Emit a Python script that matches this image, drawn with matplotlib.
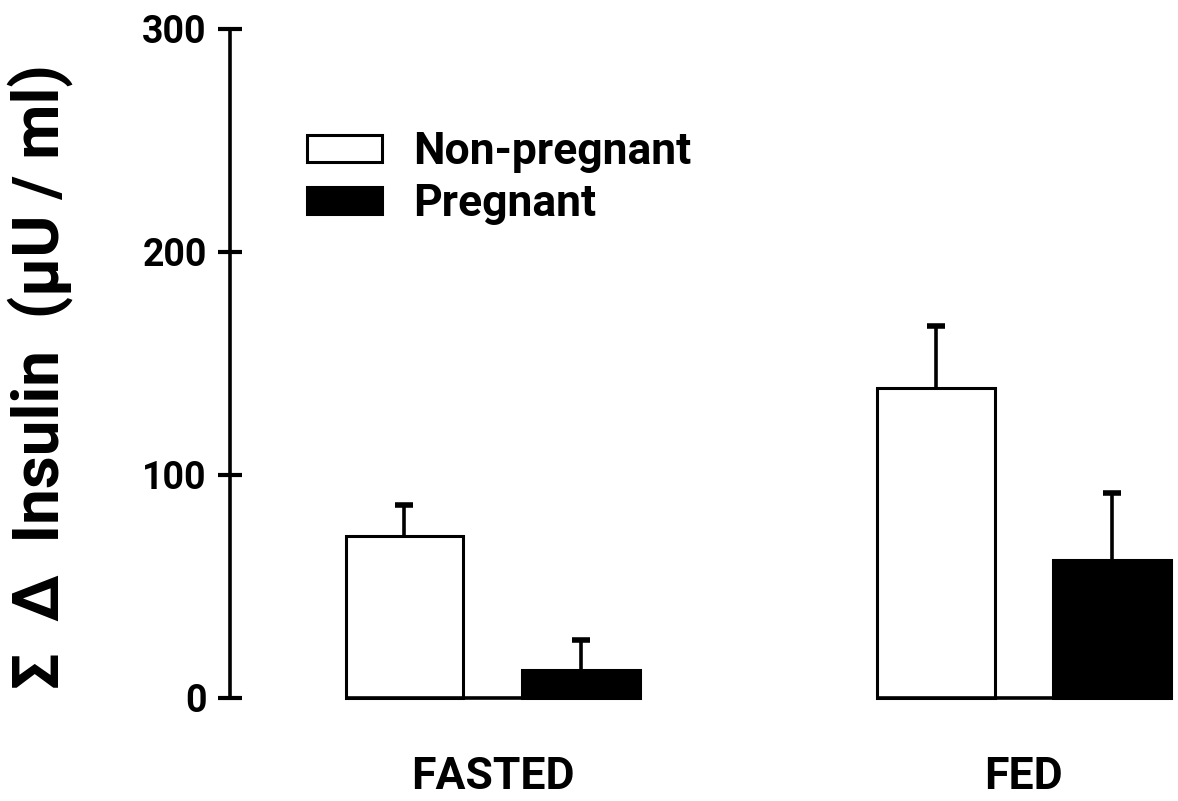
import numpy as np
import matplotlib
matplotlib.use("Agg")
import matplotlib.pyplot as plt

# datos
groups = ["FASTED", "FED"]
series = ["Non-pregnant", "Pregnant"]
non_pregnant = [72.5, 139]
non_pregnant_err = [14, 28]
pregnant = [12.5, 62]
pregnant_err = [13.5, 30]
yticks = [0, 100, 200, 300]

plt.rcParams['font.family'] = ['Roboto', 'DejaVu Sans']
plt.rcParams['font.weight'] = 'bold'

fig = plt.figure(figsize=(11.78, 8.01), dpi=100)
ax = fig.add_axes([0.195, 0.1286, 0.805, 0.8352])

x = np.arange(len(groups))
off = 0.166
w = 0.222

def barras(pos, vals, errs, color, label):
    ax.bar(pos, vals, w, color=color, edgecolor="black", linewidth=2.2,
           label=label, clip_on=False, zorder=3)
    tops = np.array(vals) + np.array(errs)
    # solo la mitad superior del error
    ax.vlines(pos, vals, tops, color="black", lw=2.6, zorder=2)
    ax.plot(pos, tops, ls="none", marker="_", ms=13, mew=4, color="black", zorder=2)

barras(x - off, non_pregnant, non_pregnant_err, "white", series[0])
barras(x + off, pregnant, pregnant_err, "black", series[1])

# linea base de cada grupo
for xi in x:
    ax.hlines(0, xi - off - w / 2, xi + off + w / 2, color="black", lw=2.6,
              clip_on=False, zorder=4)

ax.set_xlim(-0.495, 1.29)
ax.set_ylim(0, 300)
ax.set_yticks(yticks)
ax.set_xticks(x)
ax.set_xticklabels(groups, fontsize=32)
ax.tick_params(axis="x", length=0, pad=42)
ax.tick_params(axis="y", direction="inout", length=17, width=3, labelsize=27, pad=8)

for s in ["top", "right", "bottom"]:
    ax.spines[s].set_visible(False)
ax.spines["left"].set_linewidth(2.6)
ax.spines["left"].set_bounds(0, 300)

ax.set_ylabel("Σ  Δ  Insulin  (μU / ml)", fontsize=46, fontweight="bold")
ax.yaxis.set_label_coords(-0.165, 0.48)

ax.legend(loc="upper left", bbox_to_anchor=(0.081, 0.847), frameon=False,
          prop=dict(size=32), handlelength=1.7, handleheight=0.56,
          labelspacing=0.22, handletextpad=0.7, borderpad=0, borderaxespad=0)

fig.savefig("out.png", dpi=100)
